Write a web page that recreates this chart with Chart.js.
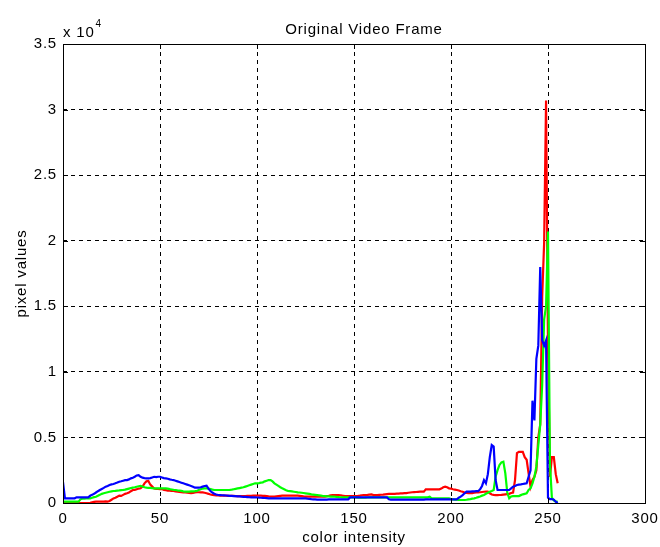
<!DOCTYPE html>
<html>
<head>
<meta charset="utf-8">
<script src="https://cdn.jsdelivr.net/npm/chart.js@4/dist/chart.umd.min.js"></script>
<style>
html,body{margin:0;padding:0;background:#fff;}
#wrap{width:660px;height:547px;position:relative;}
</style>
</head>
<body>
<div id="wrap"><canvas id="c" width="660" height="547"></canvas></div>
<script>
const chartTitle = "Original Video Frame";
const xAxisTitle = "color intensity";
const yAxisTitle = "pixel values";
const xTicks = [0, 50, 100, 150, 200, 250, 300];
const yTickLabels = ["0", "0.5", "1", "1.5", "2", "2.5", "3", "3.5"];
const yScaleFactor = 10000;

// Histogram counts for intensities 0..255 (10 per row)
const redCounts = [
  0,0,0,0,0,0,0,0,0,0,                               // 0
  0,0,0,0,20,50,80,100,100,100,                      // 10
  110,100,120,100,150,250,350,400,480,560,           // 20
  540,620,700,740,800,900,990,1000,1050,1100,        // 30
  1120,1250,1500,1650,1680,1400,1250,1100,1070,1080, // 40
  1060,1070,1000,980,950,940,920,915,880,870,        // 50
  850,830,810,800,780,770,750,760,800,820,           // 60
  820,815,810,780,740,700,650,610,600,580,           // 70
  570,560,560,560,560,550,550,540,540,530,           // 80
  530,530,530,530,530,540,540,550,560,560,           // 90
  560,560,560,550,540,520,500,490,480,480,           // 100
  500,520,540,560,560,560,560,560,560,560,           // 110
  560,560,540,520,500,490,480,480,480,480,           // 120
  480,480,480,480,480,490,520,550,590,610,           // 130
  610,610,610,590,560,540,530,530,530,530,           // 140
  530,530,540,560,590,610,610,620,640,660,           // 150
  600,610,610,620,630,640,660,680,690,690,           // 160
  690,700,710,720,730,740,750,760,780,800,           // 170
  820,830,840,850,860,860,860,1040,1040,1040,        // 180
  1040,1040,1040,1040,1040,1100,1200,1245,1200,1120, // 190
  1100,1050,1020,990,950,900,860,800,760,750,        // 200
  750,760,780,800,800,820,840,860,870,870,           // 210
  740,650,620,600,600,610,620,640,660,680,           // 220
  700,760,800,1750,3800,3900,3900,3900,3500,3300,    // 230
  2260,1245,1750,2000,2500,5000,6000,15700,19800,30700, // 240
  12000,2000,3500,3500,2200,1500                     // 250
];
const greenCounts = [
  100,100,100,100,100,100,100,100,100,280,           // 0
  330,340,350,350,355,400,450,480,550,620,           // 10
  700,740,780,820,860,890,915,930,950,960,           // 20
  980,990,1020,1060,1100,1140,1170,1200,1240,1280,   // 30
  1300,1260,1200,1170,1160,1150,1130,1120,1120,1120, // 40
  1120,1120,1120,1120,1100,1060,1030,1000,990,960,   // 50
  940,920,890,870,860,870,880,890,900,915,           // 60
  1000,1050,1100,1120,1120,1100,1060,1020,990,990,   // 70
  990,990,990,990,990,990,1000,1020,1050,1080,       // 80
  1110,1140,1170,1200,1250,1300,1350,1400,1450,1500, // 90
  1500,1520,1550,1575,1650,1700,1750,1750,1650,1500, // 100
  1400,1300,1200,1120,1050,980,915,900,880,860,      // 110
  840,810,800,780,760,740,720,700,660,640,           // 120
  620,600,580,560,530,520,510,500,490,480,           // 130
  480,460,450,440,430,430,430,430,430,430,           // 140
  430,430,410,400,400,400,410,420,430,430,           // 150
  430,430,430,430,430,430,430,430,430,430,           // 160
  430,430,430,430,430,430,430,430,430,430,           // 170
  430,430,430,430,430,430,430,430,430,480,           // 180
  355,355,355,355,355,355,355,355,355,355,           // 190
  300,280,260,250,240,230,230,230,250,280,           // 200
  300,330,355,400,450,500,560,610,700,780,           // 210
  860,920,990,2000,2500,2900,3100,3150,2260,800,     // 220
  355,500,520,530,530,530,600,660,700,740,           // 230
  1000,1120,1500,2000,2770,4400,6000,9000,14000,15000, // 240
  20700,3000,400,200,100,100                         // 250
];
const blueCounts = [
  1600,355,355,355,355,355,355,430,430,430,          // 0
  430,430,430,430,550,620,700,800,900,990,           // 10
  1070,1150,1245,1300,1370,1420,1450,1500,1560,1625, // 20
  1660,1700,1740,1750,1800,1880,1930,2000,2100,2130, // 30
  2000,1930,1900,1880,1880,1900,1950,2000,1980,2000, // 40
  2000,1950,1900,1880,1850,1800,1770,1750,1700,1650, // 50
  1600,1550,1500,1450,1400,1350,1300,1245,1170,1170, // 60
  1170,1200,1250,1300,1320,1100,915,800,700,650,     // 70
  610,600,590,580,570,560,550,540,530,520,           // 80
  510,500,480,470,460,450,440,430,430,430,           // 90
  420,410,400,390,380,370,360,355,355,355,           // 100
  355,355,355,355,355,355,355,355,355,355,           // 110
  355,355,355,355,355,355,330,310,290,280,           // 120
  270,255,255,255,255,260,260,270,270,280,           // 130
  280,280,280,280,280,280,280,280,430,430,           // 140
  430,430,430,430,430,430,430,430,430,430,           // 150
  430,430,430,430,430,430,430,430,280,255,           // 160
  255,255,255,255,255,255,255,255,255,255,           // 170
  255,255,255,255,255,255,255,280,280,280,           // 180
  280,280,280,280,280,280,280,280,280,280,           // 190
  280,280,280,280,400,480,600,740,860,860,           // 200
  870,880,890,900,900,1040,1300,1750,1500,2200,      // 210
  3500,4420,4300,1750,990,990,990,990,990,990,       // 220
  990,1120,1250,1300,1370,1400,1420,1450,1480,1500,  // 230
  2000,2500,7800,6300,11000,12000,18000,12400,12000,12400, // 240
  400,300,300,250,100,0                              // 250
];

function toPoints(arr){ return arr.map((v,i)=>({x:i,y:v})); }

const fontFam = '"Liberation Sans", Arial, sans-serif';
const fontSize = 15;

const spacingPlugin = {
  id:'letterSpacing',
  beforeLayout(chart){ chart.ctx.letterSpacing = '0.8px'; },
  beforeDraw(chart){ chart.ctx.letterSpacing = '0.8px'; }
};

const boxPlugin = {
  id:'matlabBox',
  afterDraw(chart){
    const {ctx, chartArea:a, scales} = chart;
    ctx.save();
    ctx.letterSpacing = '0.8px';
    ctx.strokeStyle = '#000';
    ctx.lineWidth = 1;
    const tl = 5;
    xTicks.forEach(v=>{
      const px = Math.round(scales.x.getPixelForValue(v))+0.5;
      ctx.beginPath();
      ctx.moveTo(px,a.bottom); ctx.lineTo(px,a.bottom-tl);
      ctx.moveTo(px,a.top); ctx.lineTo(px,a.top+tl);
      ctx.stroke();
    });
    yTickLabels.forEach((_,k)=>{
      const py = Math.round(scales.y.getPixelForValue(k*0.5*yScaleFactor))+0.5;
      ctx.beginPath();
      ctx.moveTo(a.left,py); ctx.lineTo(a.left+tl,py);
      ctx.moveTo(a.right,py); ctx.lineTo(a.right-tl,py);
      ctx.stroke();
    });
    ctx.strokeRect(Math.round(a.left)+0.5, Math.round(a.top)+0.5, Math.round(a.right-a.left), Math.round(a.bottom-a.top));
    ctx.fillStyle = '#000';
    // title
    ctx.font = fontSize + 'px ' + fontFam;
    ctx.textAlign = 'center';
    ctx.textBaseline = 'middle';
    ctx.fillText(chartTitle, 364, 30);
    // exponent label
    ctx.textBaseline = 'alphabetic';
    ctx.textAlign = 'left';
    ctx.fillText('x 10', 63, 37);
    const w = ctx.measureText('x 10').width;
    ctx.font = '10px ' + fontFam;
    ctx.fillText('4', 63 + w + 1, 27);
    ctx.restore();
  }
};

new Chart(document.getElementById('c'), {
  type:'line',
  data:{
    datasets:[
      {label:'R', data:toPoints(redCounts), borderColor:'#ff0000', borderWidth:2.2, pointRadius:0, fill:false, tension:0, order:3},
      {label:'G', data:toPoints(greenCounts), borderColor:'#00ff00', borderWidth:2.2, pointRadius:0, fill:false, tension:0, order:2},
      {label:'B', data:toPoints(blueCounts), borderColor:'#0000ff', borderWidth:2.2, pointRadius:0, fill:false, tension:0, order:1}
    ]
  },
  options:{
    responsive:false,
    animation:false,
    devicePixelRatio:1,
    layout:{padding:{left:0,right:15,top:44,bottom:0}},
    plugins:{
      legend:{display:false},
      tooltip:{enabled:false},
      title:{display:false}
    },
    scales:{
      x:{
        type:'linear', min:0, max:300,
        afterBuildTicks(s){ s.ticks = xTicks.map(v=>({value:v})); },
        afterFit(s){ s.height = 44; s.paddingLeft = 0; s.paddingRight = 0; },
        ticks:{color:'#000', font:{family:fontFam,size:fontSize}, padding:7, maxRotation:0, callback:(v)=>String(v)},
        grid:{color:'#000', lineWidth:1, drawTicks:false},
        border:{display:false, dash:[4,4]},
        title:{display:true, text:xAxisTitle, color:'#000', font:{family:fontFam,size:fontSize}, padding:{top:0,bottom:0}}
      },
      y:{
        type:'linear', min:0, max:35000,
        afterBuildTicks(s){ s.ticks = yTickLabels.map((_,k)=>({value:k*0.5*yScaleFactor})); },
        afterFit(s){ s.width = 63; s.paddingTop = 0; s.paddingBottom = 0; },
        ticks:{color:'#000', font:{family:fontFam,size:fontSize}, padding:6, callback:(v,idx)=>yTickLabels[idx]},
        grid:{color:'#000', lineWidth:1, drawTicks:false},
        border:{display:false, dash:[4,4]},
        title:{display:true, text:yAxisTitle, color:'#000', font:{family:fontFam,size:fontSize}, padding:{top:13,bottom:0}}
      }
    }
  },
  plugins:[spacingPlugin, boxPlugin]
});
</script>
</body>
</html>
